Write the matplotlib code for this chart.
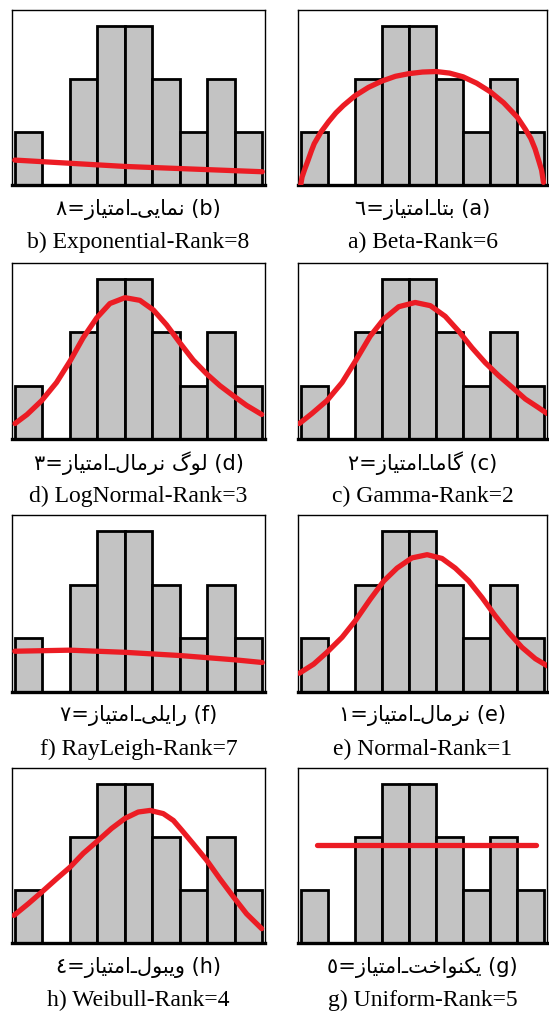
import matplotlib.pyplot as plt

# histogram counts shared by all eight panels (9 bins)
counts = [1, 0, 2, 3, 3, 2, 1, 2, 1]
bin_left = [0, 1, 2, 3, 4, 5, 6, 7, 8]

# fitted pdf curves, scaled to histogram counts
beta_x = [0, 0.05, 0.15, 0.26, 0.4, 0.5, 0.75, 1.04, 1.3, 1.58, 2.0, 2.5, 3.0, 3.5, 4.0, 4.5, 5.0,
          5.5, 6.0, 6.5, 7.0, 7.5, 8.0, 8.3, 8.5, 8.66, 8.8, 8.9, 8.97]
beta_y = [0, 0.15, 0.3, 0.45, 0.65, 0.78, 1.0, 1.2, 1.36, 1.5, 1.68, 1.84, 1.96, 2.05, 2.1, 2.13, 2.14,
          2.11, 2.04, 1.92, 1.76, 1.55, 1.28, 1.05, 0.88, 0.68, 0.45, 0.28, 0.05]

expo_x = [0, 1, 2, 3, 4, 5, 6, 7, 8, 9]
expo_y = [0.47, 0.44, 0.41, 0.38, 0.35, 0.33, 0.31, 0.29, 0.27, 0.25]

gamma_x = [-0.05, 0.42, 0.97, 1.53, 2.02, 2.57, 3.07, 3.62, 4.23, 4.79, 5.34, 5.84, 6.33, 6.82,
           7.31, 7.81, 8.3, 8.75, 9.1]
gamma_y = [0.29, 0.48, 0.72, 1.06, 1.46, 1.93, 2.25, 2.48, 2.56, 2.5, 2.3, 2.02, 1.71, 1.43,
           1.19, 0.97, 0.75, 0.6, 0.48]

lognorm_x = [0.01, 0.45, 0.98, 1.52, 2.01, 2.49, 2.98, 3.46, 4.01, 4.55, 5.04, 5.52, 6.01, 6.49,
             6.98, 7.46, 7.95, 8.43, 8.98]
lognorm_y = [0.29, 0.46, 0.72, 1.06, 1.46, 1.9, 2.27, 2.54, 2.65, 2.6, 2.42, 2.14, 1.8, 1.48,
             1.22, 1.0, 0.81, 0.63, 0.46]

normal_x = [-0.05, 0.48, 0.97, 1.53, 2.02, 2.57, 3.07, 3.56, 4.11, 4.67, 5.22, 5.71, 6.21, 6.7,
            7.19, 7.68, 8.18, 8.67, 9.1]
normal_y = [0.35, 0.52, 0.74, 1.02, 1.33, 1.73, 2.07, 2.31, 2.5, 2.56, 2.49, 2.31, 2.07, 1.76,
            1.42, 1.11, 0.83, 0.62, 0.49]

rayl_x = [0, 1, 2, 3, 4, 5, 6, 7, 8, 9]
rayl_y = [0.76, 0.77, 0.78, 0.76, 0.74, 0.71, 0.68, 0.64, 0.6, 0.55]

unif_x = [0.62, 8.69]
unif_y = [1.84, 1.84]

weib_x = [-0.03, 0.49, 0.98, 1.52, 2.01, 2.49, 2.98, 3.52, 4.01, 4.49, 4.92, 5.4, 5.77, 6.07,
          6.49, 6.98, 7.46, 7.95, 8.43, 8.98]
weib_y = [0.52, 0.74, 0.96, 1.21, 1.43, 1.69, 1.91, 2.16, 2.35, 2.47, 2.5, 2.44, 2.31, 2.13,
          1.87, 1.56, 1.21, 0.87, 0.55, 0.27]

# Persian labels, already in visual (left-to-right) order with shaped glyph forms
AMTIAZ = "\uFEAF\uFE8E\uFEF4\uFE98\uFEE3\uFE8D"
fa_names = {
    "b": "\uFEF0\uFEF3\uFE8E\uFEE4\uFEE7",                                   # نمایی
    "a": "\uFE8E\uFE98\uFE91",                                               # بتا
    "d": "\uFEDD\uFE8E\uFEE3\uFEAE\uFEE7 \uFB92\uFEEE\uFEDF",                # لوگ نرمال
    "c": "\uFE8E\uFEE3\uFE8E\uFB94",                                         # گاما
    "f": "\uFEF0\uFEE0\uFEF3\uFE8D\uFEAD",                                   # رایلی
    "e": "\uFEDD\uFE8E\uFEE3\uFEAE\uFEE7",                                   # نرمال
    "h": "\uFEDD\uFEEE\uFE92\uFEF3\uFEED",                                   # ویبول
    "g": "\uFE96\uFEA7\uFE8D\uFEEE\uFEE8\uFB91\uFEF3",                       # یکنواخت
}
fa_digits = {"b": "\u0668", "a": "\u0666", "d": "\u0663", "c": "\u0662",
             "f": "\u0667", "e": "\u0661", "h": "\u0664", "g": "\u0665"}

panels = [
    ("b", "b) Exponential-Rank=8", expo_x, expo_y),
    ("a", "a) Beta-Rank=6", beta_x, beta_y),
    ("d", "d) LogNormal-Rank=3", lognorm_x, lognorm_y),
    ("c", "c) Gamma-Rank=2", gamma_x, gamma_y),
    ("f", "f) RayLeigh-Rank=7", rayl_x, rayl_y),
    ("e", "e) Normal-Rank=1", normal_x, normal_y),
    ("h", "h) Weibull-Rank=4", weib_x, weib_y),
    ("g", "g) Uniform-Rank=5", unif_x, unif_y),
]

W, H = 549, 1017
fig = plt.figure(figsize=(W / 100, H / 100), dpi=100)

cols = [(12, 265), (298, 547)]
rows = [(10, 185), (263, 439), (515, 692), (768, 943)]

for i, (key, en_label, cx, cy) in enumerate(panels):
    x0, x1 = cols[i % 2]
    y0, y1 = rows[i // 2]
    ax = fig.add_axes([x0 / W, 1 - y1 / H, (x1 - x0) / W, (y1 - y0) / H])
    ax.bar(bin_left, counts, width=1, align="edge", color="#c3c3c3",
           edgecolor="black", linewidth=2, zorder=2)
    ax.plot(cx, cy, color="#ec1c24", linewidth=3.8, solid_capstyle="round",
            solid_joinstyle="round", zorder=3)
    ax.set_xlim(-0.1, 9.1)
    ax.set_ylim(0, 3.3)
    ax.set_xticks([])
    ax.set_yticks([])
    for side in ["top", "right", "left"]:
        ax.spines[side].set_linewidth(1.0)
    ax.spines["bottom"].set_linewidth(2.4)

    xc = (x0 + x1) / 2 / W
    fa_text = fa_digits[key] + "=" + AMTIAZ + "\u0640" + fa_names[key] + " (" + key + ")"
    fig.text(xc, 1 - (y1 + 24) / H, fa_text, ha="center", va="center",
             fontsize=15, family="DejaVu Sans")
    fig.text(xc, 1 - (y1 + 57) / H, en_label, ha="center", va="center",
             fontsize=17, family="Liberation Serif")

fig.savefig("out.png", dpi=100)
